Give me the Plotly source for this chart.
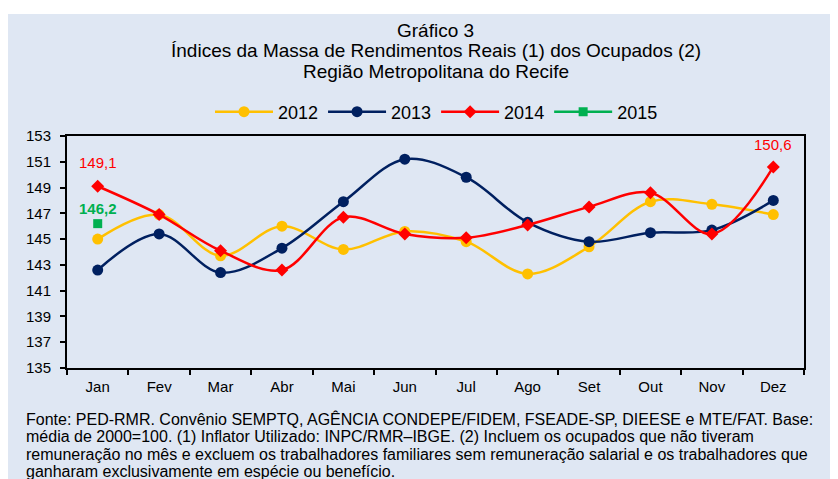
import plotly.graph_objects as go

months = ["Jan", "Fev", "Mar", "Abr", "Mai", "Jun", "Jul", "Ago", "Set", "Out", "Nov", "Dez"]
v2012 = [145.0, 146.9, 143.7, 146.0, 144.2, 145.6, 144.8, 142.3, 144.4, 147.9, 147.7, 146.9]
v2013 = [142.6, 145.4, 142.4, 144.3, 147.9, 151.2, 149.8, 146.3, 144.8, 145.5, 145.7, 148.0]
v2014 = [149.1, 146.9, 144.1, 142.6, 146.7, 145.4, 145.1, 146.1, 147.5, 148.6, 145.4, 150.6]
v2015 = [146.2]

title_lines = ["Gráfico 3",
               "Índices da Massa de Rendimentos Reais (1) dos Ocupados (2)",
               "Região Metropolitana do Recife"]
note_lines = ["Fonte: PED-RMR. Convênio SEMPTQ, AGÊNCIA CONDEPE/FIDEM, FSEADE-SP, DIEESE e MTE/FAT. Base:",
              "média de 2000=100. (1) Inflator Utilizado: INPC/RMR–IBGE. (2) Incluem os ocupados que não tiveram",
              "remuneração no mês e excluem os trabalhadores familiares sem remuneração salarial e os trabalhadores que",
              "ganharam exclusivamente em espécie ou benefício."]

# the page body has an 8px margin: figure origin sits at page (8, 8)
OFF = 8
W, H = 838 - OFF, 479 - OFF
L, R, T, B = 67 - OFF, 804 - OFF, 136 - OFF, 368 - OFF
pw, ph = R - L, B - T

def px(x_page):
    return (x_page - OFF - L) / pw

def py(y_page):
    return (B - (y_page - OFF)) / ph

BG = "#DFE7F3"
FONT = "Arial, Liberation Sans, sans-serif"

fig = go.Figure()
fig.add_trace(go.Scatter(x=months, y=v2012, name="2012", mode="lines+markers",
                         line=dict(color="#FFC000", width=2.5, shape="spline", smoothing=1),
                         marker=dict(symbol="circle", size=11, color="#FFC000")))
fig.add_trace(go.Scatter(x=months, y=v2013, name="2013", mode="lines+markers",
                         line=dict(color="#002060", width=2.5, shape="spline", smoothing=1),
                         marker=dict(symbol="circle", size=11, color="#002060")))
fig.add_trace(go.Scatter(x=months, y=v2014, name="2014", mode="lines+markers",
                         line=dict(color="#FF0000", width=2.5, shape="spline", smoothing=1),
                         marker=dict(symbol="diamond", size=10, color="#FF0000")))
fig.add_trace(go.Scatter(x=months[:len(v2015)], y=v2015, name="2015", mode="lines+markers",
                         line=dict(color="#00B050", width=2.5),
                         marker=dict(symbol="square", size=9, color="#00B050")))

def fmt(v):
    return f"{v:.1f}".replace(".", ",")

annotations = []
for txt, yc in zip(title_lines, [30, 51, 72]):
    annotations.append(dict(text=txt, x=px(435.5), y=py(yc), xref="paper", yref="paper", showarrow=False,
                            font=dict(size=19, color="#000"), xanchor="center", yanchor="middle"))
annotations += [
    dict(text=fmt(v2014[0]), x=months[0], y=v2014[0], showarrow=False, yshift=24,
         font=dict(size=15, color="#FF0000")),
    dict(text=fmt(v2014[-1]), x=months[-1], y=v2014[-1], showarrow=False, yshift=22,
         font=dict(size=15, color="#FF0000")),
    dict(text="<b>" + fmt(v2015[0]) + "</b>", x=months[0], y=v2015[0], showarrow=False, yshift=15,
         font=dict(size=15, color="#00B050")),
]
for txt, yc in zip(note_lines, [418.5, 436.5, 454.5, 471]):
    annotations.append(dict(text=txt, x=px(24), y=py(yc), xref="paper", yref="paper", showarrow=False,
                            xanchor="left", yanchor="middle", font=dict(size=16, color="#000")))

shapes = [dict(type="rect", xref="paper", yref="paper", x0=px(8), x1=px(850), y0=py(490), y1=py(14),
               fillcolor=BG, line=dict(width=0), layer="below")]

fig.update_layout(
    width=W, height=H,
    margin=dict(l=L, r=W - R, t=T, b=H - B, pad=0, autoexpand=False),
    paper_bgcolor="white", plot_bgcolor=BG,
    font=dict(family=FONT, color="#000"),
    showlegend=True,
    legend=dict(orientation="h", x=px(436.5), xanchor="center", y=py(112), yanchor="middle",
                font=dict(size=18), bgcolor="rgba(0,0,0,0)", itemwidth=58, tracegroupgap=0),
    annotations=annotations, shapes=shapes,
)
fig.update_xaxes(type="category", range=[-0.5, len(months) - 0.5], showline=True, linecolor="black",
                 linewidth=2, mirror=True,
                 ticks="outside", tickson="boundaries", ticklen=5, tickwidth=2, tickcolor="black",
                 showgrid=False, tickfont=dict(size=15), zeroline=False, automargin=False,
                 ticklabelstandoff=4)
fig.update_yaxes(range=[135, 153], dtick=2, tick0=135, showline=True, linecolor="black", linewidth=2,
                 mirror=True, ticks="outside", ticklen=5, tickwidth=2, tickcolor="black",
                 showgrid=False, tickfont=dict(size=15), zeroline=False, automargin=False,
                 ticklabelstandoff=6)

fig.write_html("out.html")
